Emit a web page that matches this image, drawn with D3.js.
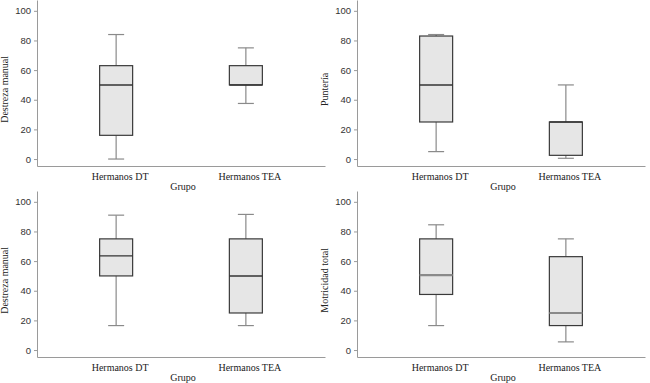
<!DOCTYPE html>
<html>
<head>
<meta charset="utf-8">
<script src="https://cdn.jsdelivr.net/npm/d3@7"></script>
<style>
  body { margin: 0; background: #fff; }
  .tick text { font-family: "Liberation Sans", Arial, sans-serif; font-size: 9.5px; fill: #333; }
  .xcat .tick text { font-family: "Liberation Serif", serif; font-size: 10px; fill: #222; }
  .title { font-family: "Liberation Serif", serif; font-size: 10px; fill: #222; }
</style>
</head>
<body>
<div id="chart"></div>
<script>
// groups on the x axis
const groups = ["Hermanos DT", "Hermanos TEA"];
const yTicks = [0, 20, 40, 60, 80, 100];
const xTitle = "Grupo";
const yTitles = ["Destreza manual", "Puntería", "Destreza manual", "Motricidad total"];

// box stats per group: [min, q1, median, q3, max]
const destrezaTop = [[0, 16, 50, 63, 84], [37.5, 50, 50, 63, 75]];
const punteria = [[5, 25, 50, 83, 84], [0.5, 2.5, 25, 25, 50]];
const destrezaBottom = [[16.5, 50, 63.5, 75, 91], [16.5, 25, 50, 75, 91.5]];
const motricidad = [[16.5, 37.5, 50.5, 75, 84.5], [5.5, 16.5, 25, 63, 75]];

const panelData = [destrezaTop, punteria, destrezaBottom, motricidad];

// panel placement (left, right, top, bottom of the axes)
const panels = [
  { left: 37, right: 325, top: 0, bottom: 166, median: "#333", medianW: 1.4 },
  { left: 357, right: 645, top: 0, bottom: 166, median: "#333", medianW: 1.4 },
  { left: 37, right: 325, top: 191, bottom: 357, median: "#333", medianW: 1.4 },
  { left: 357, right: 645, top: 191, bottom: 357, median: "#8a8a8a", medianW: 2.2 }
];

const boxWidth = 33, capWidth = 16;

const svg = d3.select("#chart")
  .append("svg")
  .attr("width", 650)
  .attr("height", 383);

panels.forEach(function (p, i) {
  const stats = panelData[i];

  const x = d3.scalePoint()
    .domain(groups)
    .range([p.left, p.right])
    .padding(0.61);

  const y = d3.scaleLinear()
    .domain([-4.7, 107.3])
    .range([p.bottom, p.top]);

  // y axis
  const ya = svg.append("g")
    .attr("transform", `translate(${p.left},0)`)
    .call(d3.axisLeft(y).tickValues(yTicks).tickSize(3).tickSizeOuter(0).tickPadding(3));
  ya.select(".domain").attr("stroke", "#9a9a9a");
  ya.selectAll(".tick line").attr("stroke", "#9a9a9a");

  // x axis
  const xa = svg.append("g")
    .attr("class", "xcat")
    .attr("transform", `translate(0,${p.bottom})`)
    .call(d3.axisBottom(x).tickSize(0).tickSizeOuter(0).tickPadding(7));
  xa.select(".domain").attr("stroke", "#9a9a9a");
  xa.selectAll(".tick text").attr("dx", 3.5);

  // axis titles
  svg.append("text")
    .attr("class", "title")
    .attr("x", (p.left + p.right) / 2 + 2)
    .attr("y", p.bottom + 24)
    .attr("text-anchor", "middle")
    .text(xTitle);

  svg.append("text")
    .attr("class", "title")
    .attr("transform", `translate(${p.left - 29},${y(47)}) rotate(-90)`)
    .attr("text-anchor", "middle")
    .text(yTitles[i]);

  const g = svg.append("g");
  const boxes = g.selectAll("g.box")
    .data(stats)
    .join("g")
    .attr("class", "box");

  // whiskers
  boxes.append("line")
    .attr("x1", (d, j) => x(groups[j])).attr("x2", (d, j) => x(groups[j]))
    .attr("y1", d => y(d[0])).attr("y2", d => y(d[4]))
    .attr("stroke", "#8a8a8a").attr("stroke-width", 1.2);
  [0, 4].forEach(function (k) {
    boxes.append("line")
      .attr("x1", (d, j) => x(groups[j]) - capWidth / 2)
      .attr("x2", (d, j) => x(groups[j]) + capWidth / 2)
      .attr("y1", d => y(d[k])).attr("y2", d => y(d[k]))
      .attr("stroke", "#8a8a8a").attr("stroke-width", 1.2);
  });

  // box
  boxes.append("rect")
    .attr("x", (d, j) => x(groups[j]) - boxWidth / 2)
    .attr("width", boxWidth)
    .attr("y", d => y(d[3]))
    .attr("height", d => y(d[1]) - y(d[3]))
    .attr("fill", "#e6e6e6")
    .attr("stroke", "#3a3a3a")
    .attr("stroke-width", 1.2);

  // median
  boxes.append("line")
    .attr("x1", (d, j) => x(groups[j]) - boxWidth / 2)
    .attr("x2", (d, j) => x(groups[j]) + boxWidth / 2)
    .attr("y1", d => y(d[2])).attr("y2", d => y(d[2]))
    .attr("stroke", p.median).attr("stroke-width", p.medianW);
});
</script>
</body>
</html>
